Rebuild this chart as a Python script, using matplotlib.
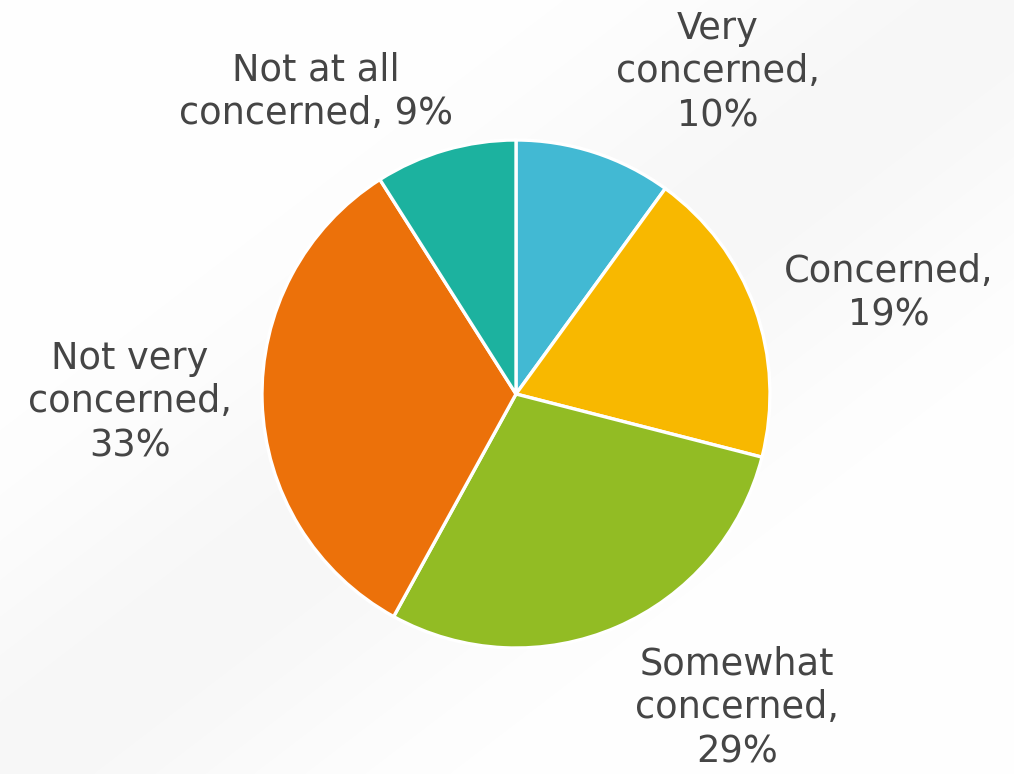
import numpy as np
import matplotlib
matplotlib.use("Agg")
import matplotlib.pyplot as plt

# Survey responses
categories = ["Very\nconcerned", "Concerned", "Somewhat\nconcerned",
              "Not very\nconcerned", "Not at all\nconcerned"]
shares = [10, 19, 29, 33, 9]
colors = ["#42B9D3", "#F8B800", "#92BC24", "#EC710A", "#1CB29F"]

# Text anchor points (pixels from top-left) for each label block
label_pos = [(718, 72), (889, 293), (737, 708), (130, 402), (316, 92)]
label_text = ["Very\nconcerned,\n{}%", "Concerned,\n{}%", "Somewhat\nconcerned,\n{}%",
              "Not very\nconcerned,\n{}%", "Not at all\nconcerned, {}%"]

W, H = 1014, 774
fig = plt.figure(figsize=(W / 100, H / 100), dpi=100)
ax = fig.add_axes([0, 0, 1, 1])

# Soft diagonal backdrop
yy, xx = np.mgrid[0:H, 0:W]
d = ((xx / W) - (yy / H)) / np.sqrt(2)
bg = 1.0 - 0.03 * np.exp(-(d / 0.22) ** 2)
ax.imshow(np.dstack([bg, bg, bg]), extent=(0, W, 0, H), origin="lower",
          zorder=0, aspect="auto")

ax.pie(shares, colors=colors, startangle=90, counterclock=False,
       center=(516, H - 394), radius=254, frame=True,
       wedgeprops=dict(edgecolor="white", linewidth=2.4))
ax.set_xlim(0, W)
ax.set_ylim(0, H)
ax.set_aspect("equal")
ax.axis("off")

for tmpl, v, (px, py) in zip(label_text, shares, label_pos):
    ax.text(px, H - py, tmpl.format(v), ha="center", va="center",
            fontsize=26.5, color="#454545", family="DejaVu Sans",
            linespacing=1.24, zorder=5)

fig.savefig("out.png", dpi=100)
